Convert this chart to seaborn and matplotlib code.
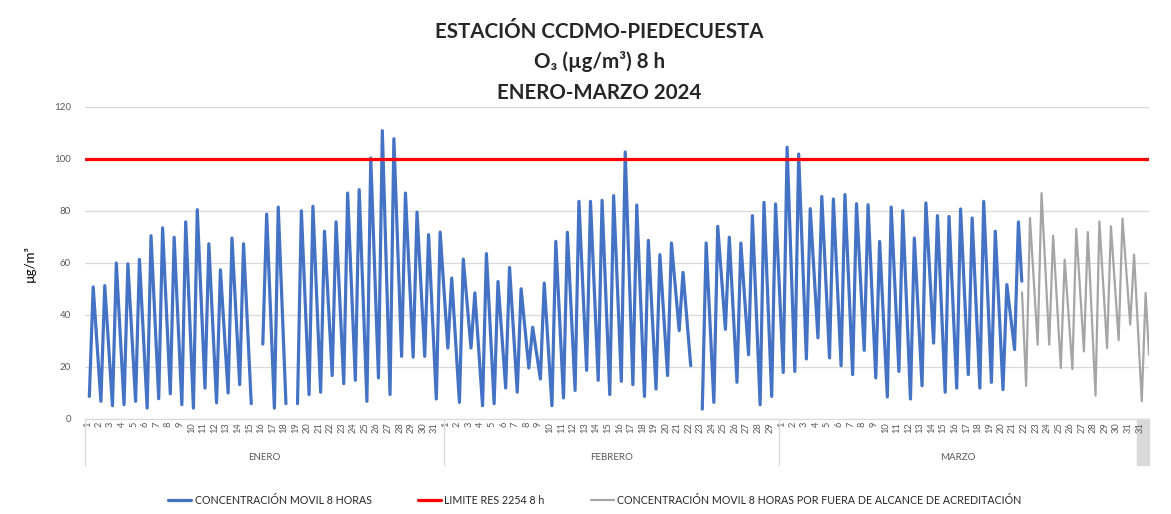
import numpy as np
import pandas as pd
import matplotlib
matplotlib.use("Agg")
import matplotlib.pyplot as plt
import matplotlib.transforms as mtransforms
from matplotlib.lines import Line2D
from matplotlib.patches import Rectangle
import seaborn as sns

nan = np.nan

# ---------------- data ----------------
# daily morning minimum and afternoon maximum of the 8-h moving O3 average
jan_min = [8.7, 6.8, 5.1, 5.5, 6.8, 4.2, 7.8, 9.7, 5.5, 4.2, 11.9, 6.2, 10.0, 13.2, 5.9,
           28.8, 4.2, 5.9, 5.9, 9.4, 10.3, 16.7, 13.6, 14.9, 6.8, 15.8, 9.4, 24.1, 23.8, 24.1, 7.7]
jan_max = [50.8, 51.3, 60.0, 59.7, 61.4, 70.5, 73.5, 69.9, 75.8, 80.5, 67.4, 57.4, 69.6, 67.4, nan,
           78.8, 81.5, nan, 80.1, 81.8, 72.2, 75.8, 86.9, 88.2, 100.4, 110.9, 107.8, 86.9, 79.6, 70.9, 71.9]
feb_min = [27.3, 6.4, 27.3, 5.1, 5.9, 11.9, 10.3, 19.6, 15.4, 5.1, 8.1, 11.0, 18.7, 14.9, 9.4,
           14.5, 13.2, 8.7, 11.5, 16.7, 34.0, 20.5, 3.8, 6.4, 34.5, 14.1, 24.7, 5.5, 8.7]
feb_max = [54.2, 61.5, 48.5, 63.6, 52.9, 58.3, 50.1, 35.3, 52.3, 68.3, 71.8, 83.7, 83.7, 84.1, 85.9,
           102.7, 82.3, 68.7, 63.2, 67.7, 56.4, nan, 67.7, 74.1, 69.9, 67.7, 78.2, 83.3, 82.7]
mar_min = [17.9, 18.3, 23.1, 31.2, 23.5, 20.5, 17.1, 26.4, 15.8, 8.5, 18.3, 7.7, 12.8, 29.2, 10.3,
           11.9, 17.1, 11.9, 14.1, 11.3, 26.7]
mar_max = [104.5, 101.9, 80.9, 85.6, 84.6, 86.3, 82.8, 82.4, 68.3, 81.5, 80.1, 69.6, 83.1, 78.2, 77.9,
           80.8, 77.3, 83.7, 72.2, 51.7, 75.8]
blue_last = 53.0          # last accredited value (midnight Mar 21/22)

# out of accreditation scope (Mar 22 .. Mar 31 + extra "31" slot)
gray_first = 48.7
gray_min = [12.8, 28.6, 28.6, 19.6, 19.2, 26.0, 9.0, 27.3, 30.3, 36.3, 6.8]
gray_max = [77.3, 86.9, 70.5, 61.3, 73.1, 71.9, 76.0, 74.1, 77.1, 63.2, 48.5]
gray_last = 24.7

limit_value = 100

day_labels = ([str(d) for d in range(1, 32)] + [str(d) for d in range(1, 30)]
              + [str(d) for d in range(1, 32)] + ["31"])
months = ["ENERO", "FEBRERO", "MARZO"]
month_days = [31, 29, 31]

# ---------------- build series ----------------
MIN_H, MAX_H = 9 / 24, 17 / 24


def build(mins, maxs, start_slot, first=None, first_x=None, last=None, last_x=None):
    xs, ys = [], []
    if first is not None:
        xs.append(first_x); ys.append(first)
    for i, (a, b) in enumerate(zip(mins, maxs)):
        xs += [start_slot + i + MIN_H, start_slot + i + MAX_H]
        ys += [a, b]
    if last is not None:
        xs.append(last_x); ys.append(last)
    seg, segs = 0, []
    for y in ys:
        if np.isnan(y):
            seg += 1
        segs.append(seg)
    df = pd.DataFrame({"x": xs, "y": ys, "seg": segs}).dropna()
    return df


n_blue = len(jan_min) + len(feb_min) + len(mar_min)
blue_df = build(jan_min + feb_min + mar_min, jan_max + feb_max + mar_max, 0,
                last=blue_last, last_x=n_blue + 0.0)
gray_df = build(gray_min, gray_max, n_blue, first=gray_first, first_x=n_blue + 0.02,
                last=gray_last, last_x=n_blue + len(gray_min))
n_slots = len(day_labels)

# ---------------- plot ----------------
sns.set_theme(style="white")
FONT = ["Lato", "DejaVu Sans"]
plt.rcParams["font.family"] = FONT

fig = plt.figure(figsize=(11.71, 5.14), dpi=100)
ax = fig.add_axes([85 / 1171, 1 - 419 / 514, (1149 - 85) / 1171, (419 - 107) / 514])

BLUE, RED, GRAY = "#4472C4", "#FF0000", "#A5A5A5"
GRID = "#D9D9D9"
TXT = "#595959"

sns.lineplot(data=blue_df, x="x", y="y", units="seg", estimator=None, color=BLUE,
             linewidth=2.3, ax=ax, legend=False, sort=False,
             solid_joinstyle="round", solid_capstyle="round")
sns.lineplot(data=gray_df, x="x", y="y", units="seg", estimator=None, color=GRAY,
             linewidth=1.6, ax=ax, legend=False, sort=False,
             solid_joinstyle="round", solid_capstyle="round")
ax.axhline(limit_value, color=RED, linewidth=2.3, zorder=3)

ax.set_xlim(0, n_slots)
ax.set_ylim(0, 120)
ax.set_yticks(np.arange(0, 121, 20))
ax.yaxis.grid(True, color=GRID, linewidth=0.9)
ax.xaxis.grid(False)
ax.set_axisbelow(True)
for s in ["left", "right", "top"]:
    ax.spines[s].set_visible(False)
ax.spines["bottom"].set_color(GRID)
ax.spines["bottom"].set_linewidth(0.9)
ax.tick_params(axis="both", length=0)
ax.tick_params(axis="y", labelsize=7, labelcolor=TXT, pad=10)
ax.set_xticks(np.arange(n_slots) + 0.2)
ax.set_xticklabels(day_labels, rotation=90, fontsize=6.7, color=TXT)
ax.tick_params(axis="x", pad=2)
ax.set_xlabel("")
ax.set_ylabel("µg/m³", fontsize=9.5, color="black", labelpad=13)

trans = mtransforms.blended_transform_factory(ax.transData, ax.transAxes)
depth = -(465 - 419) / (419 - 107)
start = 0
for name, nd in zip(months, month_days):
    ax.plot([start, start], [0, depth], transform=trans, color=GRID, lw=0.9, clip_on=False)
    ax.text(start + nd / 2, -(457 - 419) / (419 - 107), name, transform=trans,
            ha="center", va="center", fontsize=7, color=TXT)
    start += nd
ax.add_patch(Rectangle((n_slots - 1, depth), 1, -depth, transform=trans, color=GRID,
                       zorder=0, clip_on=False))

for txt, ypx in [("ESTACIÓN CCDMO-PIEDECUESTA", 32), ("O₃ (µg/m³) 8 h", 62),
                 ("ENERO-MARZO 2024", 93)]:
    fig.text(0.512, 1 - ypx / 514, txt, ha="center", va="center",
             fontsize=14.8, fontweight="bold")

handles = [Line2D([], [], color=BLUE, lw=2.3), Line2D([], [], color=RED, lw=2.3),
           Line2D([], [], color=GRAY, lw=1.6)]
labels = ["CONCENTRACIÓN MOVIL 8 HORAS", "LIMITE RES 2254 8 h",
          "CONCENTRACIÓN MOVIL 8 HORAS POR FUERA DE ALCANCE DE ACREDITACIÓN"]
fig.legend(handles, labels, loc="center", bbox_to_anchor=(0.508, 1 - 500 / 514), ncol=3,
           frameon=False, fontsize=7.7, handlelength=2.2, handletextpad=0.3, columnspacing=4.3)

fig.savefig("out.png", dpi=100)
